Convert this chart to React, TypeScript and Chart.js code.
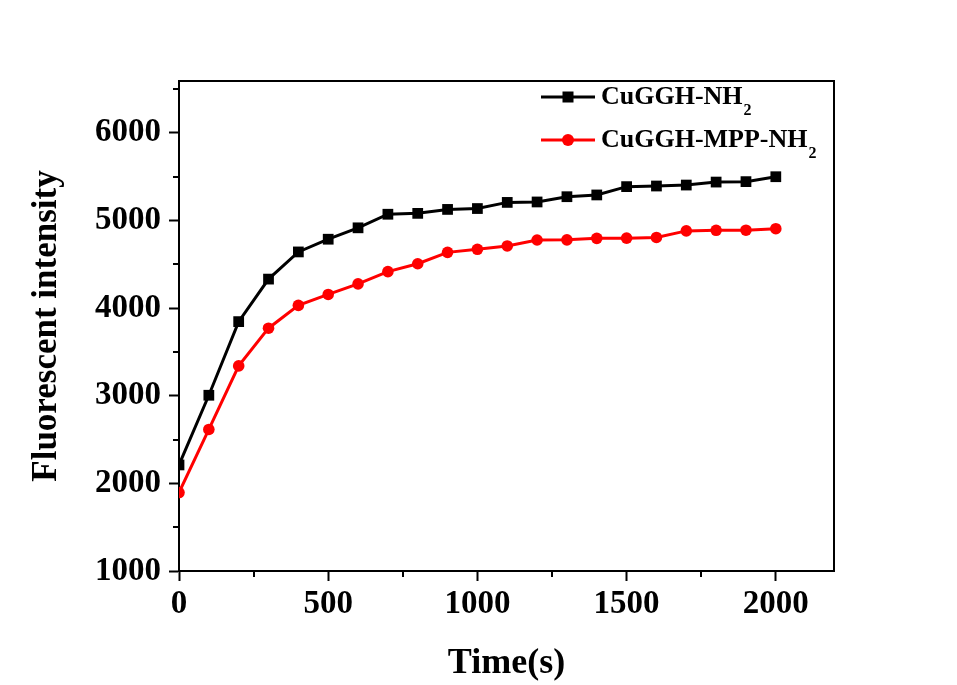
import React, { useEffect, useRef } from 'react';
import { Chart, registerables } from 'chart.js';

Chart.register(...registerables);

// ---- data ----
const times = [0, 100, 200, 300, 400, 500, 600, 700, 800, 900, 1000, 1100, 1200, 1300, 1400, 1500, 1600, 1700, 1800, 1900, 2000];
const cugghNH2 = [2210, 3005, 3845, 4330, 4640, 4785, 4915, 5070, 5080, 5125, 5135, 5205, 5210, 5270, 5290, 5385, 5392, 5403, 5437, 5442, 5498];
const cugghMppNH2 = [1895, 2615, 3340, 3770, 4030, 4155, 4275, 4415, 4505, 4635, 4670, 4708, 4776, 4778, 4795, 4797, 4805, 4880, 4887, 4888, 4905];
const seriesLabels = ['CuGGH-NH₂', 'CuGGH-MPP-NH₂'];
const xMajorTicks = [0, 500, 1000, 1500, 2000];
const yMajorTicks = [1000, 2000, 3000, 4000, 5000, 6000];
const xMinorTicks = [250, 750, 1250, 1750];
const yMinorTicks = [1500, 2500, 3500, 4500, 5500, 6500];
const xTitle = 'Time(s)';
const yTitle = 'Fluorescent intensity';

const FONT = '"Liberation Serif", "Times New Roman", serif';

const framePlugin = {
  id: 'frameAndMinor',
  afterDraw(chart: any) {
    const { ctx, chartArea } = chart;
    const xs = chart.scales.x;
    const ys = chart.scales.y;
    ctx.save();
    ctx.strokeStyle = '#000';
    ctx.lineWidth = 2;
    // top & right frame
    ctx.beginPath();
    ctx.moveTo(chartArea.left, chartArea.top);
    ctx.lineTo(chartArea.right, chartArea.top);
    ctx.lineTo(chartArea.right, chartArea.bottom);
    ctx.stroke();
    // minor ticks
    ctx.beginPath();
    xMinorTicks.forEach((v) => {
      const px = Math.round(xs.getPixelForValue(v));
      ctx.moveTo(px, chartArea.bottom);
      ctx.lineTo(px, chartArea.bottom + 6);
    });
    yMinorTicks.forEach((v) => {
      const py = Math.round(ys.getPixelForValue(v));
      ctx.moveTo(chartArea.left, py);
      ctx.lineTo(chartArea.left - 6, py);
    });
    ctx.stroke();

    // legend
    const lx0 = 541;
    const lx1 = 595;
    const rows = [97, 140];
    chart.data.datasets.forEach((ds: any, i: number) => {
      const y = rows[i];
      ctx.strokeStyle = ds.borderColor;
      ctx.lineWidth = 3;
      ctx.beginPath();
      ctx.moveTo(lx0, y);
      ctx.lineTo(lx1, y);
      ctx.stroke();
      ctx.fillStyle = ds.backgroundColor;
      const cx = (lx0 + lx1) / 2;
      if (ds.pointStyle === 'rect') {
        ctx.fillRect(cx - 5.5, y - 5.5, 11, 11);
      } else {
        ctx.beginPath();
        ctx.arc(cx, y, 6, 0, Math.PI * 2);
        ctx.fill();
      }
      const label: string = ds.label;
      const main = label.replace('₂', '');
      ctx.fillStyle = '#000';
      ctx.textBaseline = 'middle';
      ctx.textAlign = 'left';
      ctx.font = `bold 26px ${FONT}`;
      ctx.fillText(main, 601, y);
      const w = ctx.measureText(main).width;
      if (label.includes('₂')) {
        ctx.font = `bold 16px ${FONT}`;
        ctx.fillText('2', 601 + w + 1, y + 14);
      }
    });
    ctx.restore();
  },
};

export default function App() {
  const ref = useRef<HTMLCanvasElement | null>(null);
  useEffect(() => {
    if (!ref.current) return;
    const chart = new Chart(ref.current, {
      type: 'line',
      data: {
        labels: times,
        datasets: [
          {
            label: seriesLabels[0],
            data: times.map((t, i) => ({ x: t, y: cugghNH2[i] })),
            borderColor: '#000000',
            backgroundColor: '#000000',
            borderWidth: 3,
            pointStyle: 'rect',
            pointRadius: 7.6,
            pointBorderWidth: 0,
            tension: 0,
          },
          {
            label: seriesLabels[1],
            data: times.map((t, i) => ({ x: t, y: cugghMppNH2[i] })),
            borderColor: '#ff0000',
            backgroundColor: '#ff0000',
            borderWidth: 3,
            pointStyle: 'circle',
            pointRadius: 5.8,
            pointBorderWidth: 0,
            tension: 0,
          },
        ],
      },
      options: {
        responsive: false,
        animation: false,
        devicePixelRatio: 1,
        layout: { padding: { left: 0, right: 123, top: 81, bottom: 0 } },
        plugins: { legend: { display: false }, tooltip: { enabled: false } },
        scales: {
          x: {
            type: 'linear',
            min: 0,
            max: 2195,
            afterFit: (s: any) => { s.height = 114; },
            afterBuildTicks: (s: any) => { s.ticks = xMajorTicks.map((v) => ({ value: v })); },
            ticks: {
              autoSkip: false,
              maxRotation: 0,
              color: '#000',
              padding: 4,
              callback: (v: any) => String(v),
              font: { family: FONT, size: 33, weight: 'bold' },
            },
            grid: { drawOnChartArea: false, tickLength: 10, tickColor: '#000', tickWidth: 2 },
            border: { color: '#000', width: 2 },
            title: {
              display: true,
              text: xTitle,
              color: '#000',
              padding: { top: 0, bottom: 0 },
              font: { family: FONT, size: 36, weight: 'bold' },
            },
          },
          y: {
            type: 'linear',
            min: 1000,
            max: 6590,
            afterFit: (s: any) => { s.width = 179; },
            afterBuildTicks: (s: any) => { s.ticks = yMajorTicks.map((v) => ({ value: v })); },
            ticks: {
              autoSkip: false,
              color: '#000',
              padding: 8,
              callback: (v: any) => String(v),
              font: { family: FONT, size: 33, weight: 'bold' },
            },
            grid: { drawOnChartArea: false, tickLength: 10, tickColor: '#000', tickWidth: 2 },
            border: { color: '#000', width: 2 },
            title: {
              display: true,
              text: yTitle,
              color: '#000',
              padding: { top: 26, bottom: 0 },
              font: { family: FONT, size: 35, weight: 'bold' },
            },
          },
        },
      },
      plugins: [framePlugin],
    });
    return () => chart.destroy();
  }, []);
  return (
    <div style={{ position: 'absolute', left: 0, top: 0, width: 957, height: 685, background: '#fff' }}>
      <canvas ref={ref} width={957} height={685} style={{ display: 'block', width: 957, height: 685 }} />
    </div>
  );
}
